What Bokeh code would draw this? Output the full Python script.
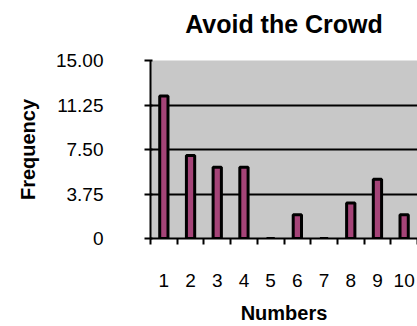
from bokeh.plotting import figure
from bokeh.models import Range1d, FixedTicker, Title
from bokeh.embed import file_html
from bokeh.resources import INLINE

numbers = [1, 2, 3, 4, 5, 6, 7, 8, 9, 10]
frequency = [12, 7, 6, 6, 0, 2, 0, 3, 5, 2]
y_ticks = [0, 3.75, 7.5, 11.25, 15]
y_tick_labels = ["0", "3.75", "7.50", "11.25", "15.00"]
title_text = "Avoid the Crowd"

FONT = "Liberation Sans"

p = figure(width=417, height=326, x_range=Range1d(0.5, 10.5), y_range=Range1d(0, 15),
           output_backend="svg", toolbar_location=None,
           background_fill_color="#C8C8C8", border_fill_color="white",
           outline_line_color=None,
           min_border_left=150, min_border_right=0, min_border_top=60, min_border_bottom=85)

# thin spacer between the title and the plot area
spacer = Title(text=" ", text_font_size="1px", standoff=9)
p.add_layout(spacer, "above")

main_title = Title(text=title_text, text_font=FONT, text_font_size="25px",
                   text_font_style="bold", align="center", vertical_align="top",
                   text_color="black", standoff=18)
p.add_layout(main_title, "above")

p.vbar(x=numbers, top=frequency, width=0.31, bottom=0,
       fill_color="#A54478", line_color="black", line_width=3)

p.xgrid.grid_line_color = None
p.ygrid.ticker = FixedTicker(ticks=y_ticks)
p.ygrid.grid_line_color = "black"
p.ygrid.grid_line_width = 2
p.ygrid.grid_line_alpha = 1

yax = p.yaxis[0]
yax.ticker = FixedTicker(ticks=y_ticks)
yax.major_label_overrides = {t: l for t, l in zip(y_ticks, y_tick_labels)}
yax.axis_line_color = "black"
yax.axis_line_width = 2
yax.major_tick_line_width = 2
yax.major_tick_out = 6
yax.major_tick_in = 2
yax.minor_tick_line_color = None
yax.major_label_standoff = 41
yax.major_label_text_font = FONT
yax.major_label_text_font_size = "19px"
yax.major_label_text_color = "black"
yax.axis_label = "Frequency"
yax.axis_label_text_font = FONT
yax.axis_label_text_font_size = "20px"
yax.axis_label_text_font_style = "bold"
yax.axis_label_text_color = "black"
yax.axis_label_standoff = 14

xax = p.xaxis[0]
xax.ticker = FixedTicker(ticks=numbers, minor_ticks=[n - 0.5 for n in numbers] + [10.5])
xax.axis_line_color = "black"
xax.axis_line_width = 2
xax.major_tick_line_color = None
xax.major_tick_out = 6
xax.major_tick_in = 0
xax.minor_tick_line_color = "black"
xax.minor_tick_line_width = 2
xax.minor_tick_out = 6
xax.minor_tick_in = 0
xax.major_label_standoff = 29
xax.major_label_text_font = FONT
xax.major_label_text_font_size = "19px"
xax.major_label_text_color = "black"
xax.axis_label = "Numbers"
xax.axis_label_text_font = FONT
xax.axis_label_text_font_size = "20px"
xax.axis_label_text_font_style = "bold"
xax.axis_label_text_color = "black"
xax.axis_label_standoff = 12

open("out.html", "w").write(file_html(p, INLINE))
